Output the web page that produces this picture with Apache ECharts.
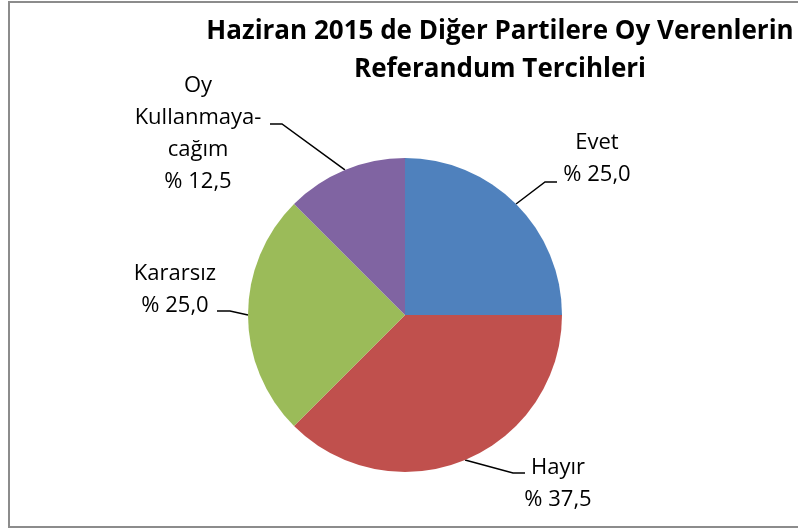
<!DOCTYPE html>
<html>
<head>
<meta charset="utf-8">
<script src="https://cdn.jsdelivr.net/npm/echarts@6/dist/echarts.min.js"></script>
<style>
  html, body { margin: 0; padding: 0; background: #fff; }
  #main { width: 798px; height: 529px; }
</style>
</head>
<body>
<div id="main"></div>
<script>
// veriler
var categories = ['Evet', 'Hayır', 'Kararsız', 'Oy Kullanmayacağım'];
var labelNames = ['Evet', 'Hayır', 'Kararsız', 'Oy\nKullanmaya-\ncağım'];
var values = [25.0, 37.5, 25.0, 12.5];
var colors = ['#4F81BD', '#C0504D', '#9BBB59', '#8064A2'];

// etiket yerleri (merkez) ve kılavuz çizgisinin dirsek noktaları
var labelPos = [
  { x: 597, y: 159, elbow: [545, 182], end: [557, 182] },
  { x: 558, y: 484, elbow: [513, 473], end: [525, 473] },
  { x: 175, y: 290, elbow: [230, 311], end: [217, 311] },
  { x: 198, y: 134, elbow: [282, 124], end: [270, 124] }
];

var chart = echarts.init(document.getElementById('main'));

var data = categories.map(function (c, i) {
  return { name: c, value: values[i], itemStyle: { color: colors[i] } };
});

var option = {
  backgroundColor: '#ffffff',
  animation: false,
  title: {
    text: 'Haziran 2015 de Diğer Partilere Oy Verenlerin\nReferandum Tercihleri',
    left: 495,
    top: 8,
    textAlign: 'center',
    textStyle: {
      fontFamily: 'Open Sans',
      fontWeight: 'bold',
      fontSize: 26,
      lineHeight: 38,
      color: '#000'
    }
  },
  graphic: [{
    type: 'rect',
    shape: { x: 9, y: 2, width: 830, height: 525 },
    style: { fill: 'none', stroke: '#8c8c8c', lineWidth: 2 },
    z: 100
  }],
  series: [{
    type: 'pie',
    center: [405, 315],
    radius: 157,
    startAngle: 90,
    clockwise: true,
    data: data,
    label: {
      show: true,
      position: 'outside',
      fontFamily: 'Open Sans',
      fontSize: 22,
      lineHeight: 32,
      color: '#000',
      align: 'center',
      formatter: function (p) {
        return labelNames[p.dataIndex] + '\n% ' + p.value.toFixed(1).replace('.', ',');
      }
    },
    labelLine: {
      show: true,
      lineStyle: { color: '#000', width: 1.5 }
    },
    labelLayout: function (params) {
      var lp = labelPos[params.dataIndex];
      var pts = params.labelLinePoints;
      var start = pts ? pts[0] : [lp.elbow[0], lp.elbow[1]];
      return {
        x: lp.x,
        y: lp.y,
        align: 'center',
        verticalAlign: 'middle',
        labelLinePoints: [start, lp.elbow, lp.end]
      };
    }
  }]
};

chart.setOption(option);
</script>
</body>
</html>
